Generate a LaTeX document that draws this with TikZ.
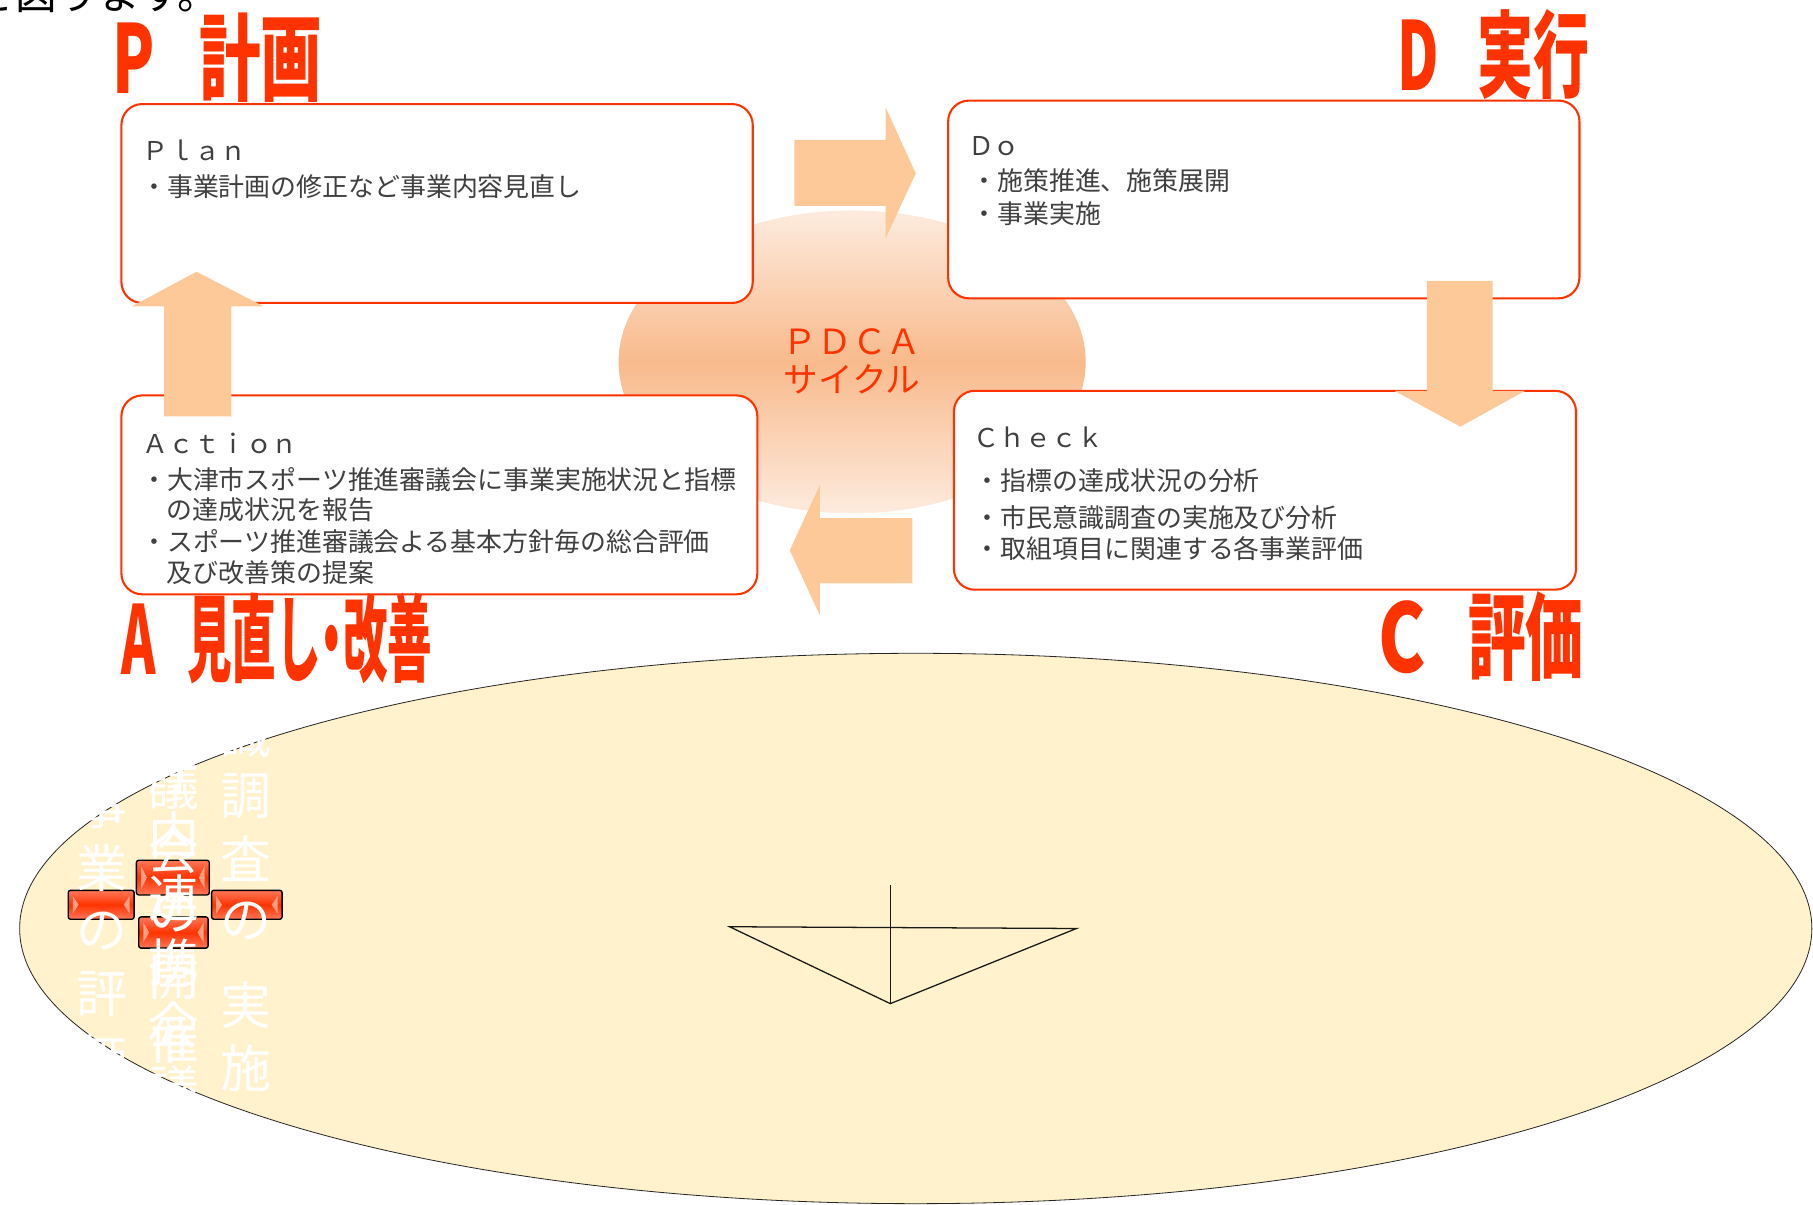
\documentclass[tikz,border=0pt]{standalone}
\usepackage{fontspec}
\setmainfont{Noto Sans CJK JP}
\usepackage{graphicx}
\usepackage{tikz}
\usetikzlibrary{positioning}
\definecolor{pdcared}{RGB}{255,51,0}
\definecolor{bodygray}{RGB}{64,64,64}
\definecolor{arrowpeach}{RGB}{253,201,153}
\definecolor{cyclelight}{RGB}{253,235,222}
\definecolor{cyclemid}{RGB}{248,186,140}
\definecolor{basecream}{RGB}{255,242,204}
\definecolor{btntop}{RGB}{255,120,90}
\definecolor{btnlight}{RGB}{255,160,130}

\begin{document}
\begin{tikzpicture}[x=1pt,y=-1pt,
    cyclebox/.style={draw=pdcared,line width=1.8pt,rounded corners=18pt,fill=white},
    bodytext/.style={anchor=base west,inner sep=0pt,text=bodygray,font=\fontsize{22.4}{26}\selectfont},
    phasetitle/.style={anchor=base west,inner sep=0pt,text=pdcared,font=\fontsize{82}{90}\selectfont\bfseries},
    cyclelabel/.style={anchor=base,inner sep=0pt,text=pdcared,font=\fontsize{30}{33}\selectfont},
    blockarrow/.style={fill=arrowpeach},
    basefill/.style={fill=basecream,draw=black!85,line width=0.7pt},
    sketch/.style={draw=black!90,line width=1.1pt},
    ghost/.style={text=white,inner sep=0pt,font=\fontsize{44}{50}\selectfont},
    btn/.style={draw=black,line width=1.2pt,rounded corners=2pt,top color=btntop,bottom color=btntop,middle color=pdcared},
    btnmark/.style={fill=btnlight}]

    \useasboundingbox (0,0) rectangle (1568,1042);

    % --- cut-off lead sentence ---
    \node[anchor=base west,inner sep=0pt,font=\fontsize{36}{40}\selectfont] (lead) at (-23,8.5) {を図ります。};

    % --- base ellipse ---
    \draw[basefill] (792,803) ellipse [x radius=775pt,y radius=238pt];
    \coordinate (tl) at (631,801.5);
    \coordinate (tr) at (931,803);
    \coordinate (tb) at (770,868);
    \coordinate (tt) at (770,765.5);
    \draw[sketch] (tl) -- (tr) -- (tb) -- cycle;
    \draw[sketch] (tt) -- (tb);

    % --- buttons ---
    \foreach \x/\y/\w/\h in {59/770/57/25, 118/744/63/30, 183/770/61/25, 120/793/60/27} {
        \draw[btn] (\x,\y) rectangle ++(\w,\h);
        \fill[btnmark] (\x+4,\y+5) -- (\x+9,\y+\h/2) -- (\x+4,\y+\h-5) -- cycle;
        \fill[btnmark] (\x+\w-4,\y+5) -- (\x+\w-9,\y+\h/2) -- (\x+\w-4,\y+\h-5) -- cycle;
    }

    % --- white columns ---
    \foreach \c [count=\i] in {事,業,の,評,価}
        \node[ghost] (colA\i) at (88,696.5+54.5*\i-54.5) {\c};
    \foreach \c [count=\i] in {審,議,会,の,開,催}
        \node[ghost] (colB\i) at (150,625+55*\i-55) {\c};
    \foreach \c [count=\i] in {庁,内,連,携,会,議}
        \node[ghost] (colC\i) at (150,667+55*\i-55) {\c};
    \foreach \c [count=\i] in {意,識,調,査,の}
        \node[ghost] (colD\i) at (213,581+53.8*\i-53.8) {\c};
    \foreach \c [count=\i] in {実,施}
        \node[ghost] (colE\i) at (213,869+55*\i-55) {\c};

    % --- PDCA cycle ---
    \shade[top color=cyclelight,bottom color=cyclelight,middle color=cyclemid] (737,313) ellipse [x radius=202pt,y radius=131pt];
    \node[cyclelabel] (pdca) at (737,307) {ＰＤＣＡ};
    \node[cyclelabel] (cycle) at (737,339.5) {サイクル};

    % --- Plan ---
    \node[cyclebox,minimum width=546,minimum height=172] (plan) at (378,176) {};
    \node[bodytext] (planhead) at (123,138.5) {Ｐｌａｎ};
    \node[bodytext] (planitem) at (122,170) {・事業計画の修正など事業内容見直し};
    \node[phasetitle] (ptitle) at (97,80.5) {\scalebox{0.65}[1]{P}\hspace{38.5pt}\scalebox{0.65}[1]{計画}};

    % --- Do ---
    \node[cyclebox,minimum width=546,minimum height=171] (do) at (1093,172.5) {};
    \node[bodytext] (dohead) at (837,134.5) {Ｄｏ};
    \node[bodytext] (doitemA) at (840,165) {・施策推進、施策展開};
    \node[bodytext] (doitemB) at (840,193.5) {・事業実施};
    \node[phasetitle] (dtitle) at (1208,78) {\scalebox{0.6}[1]{D}\hspace{33.4pt}\scalebox{0.59}[1]{実行}};

    % --- Check ---
    \node[cyclebox,minimum width=538,minimum height=172] (check) at (1094,424) {};
    \node[bodytext] (checkhead) at (842,387) {Ｃｈｅｃｋ};
    \node[bodytext] (checkitemA) at (843,424) {・指標の達成状況の分析};
    \node[bodytext] (checkitemB) at (843,456) {・市民意識調査の実施及び分析};
    \node[bodytext] (checkitemC) at (843,483) {・取組項目に関連する各事業評価};
    \node[phasetitle] (ctitle) at (1192,582) {\scalebox{0.75}[1]{C}\hspace{36.5pt}\scalebox{0.61}[1]{評価}};

    % --- Action ---
    \node[cyclebox,minimum width=550,minimum height=172] (action) at (380,428) {};
    \node[bodytext] (actionhead) at (123,392) {Ａｃｔｉｏｎ};
    \node[bodytext] (actionitemA) at (122,423) {・大津市スポーツ推進審議会に事業実施状況と指標};
    \node[bodytext] (actionitemB) at (144,449) {の達成状況を報告};
    \node[bodytext] (actionitemC) at (122,477) {・スポーツ推進審議会よる基本方針毎の総合評価};
    \node[bodytext] (actionitemD) at (144,504) {及び改善策の提案};
    \node[phasetitle] (atitle) at (105,583) {\scalebox{0.55}[1]{A}\hspace{27pt}\scalebox{0.47}[1]{見直し\kern-0.25em・\kern-0.25em改善}};

    % --- cycle arrows ---
    \fill[blockarrow] (687,121) -- (766,121) -- (766,93) -- (792,150) -- (766,206) -- (766,178) -- (687,178) -- cycle;
    \fill[blockarrow] (1234,243) -- (1291,243) -- (1291,338) -- (1319,338) -- (1263,369) -- (1206,338) -- (1234,338) -- cycle;
    \fill[blockarrow] (789,448) -- (709,448) -- (709,419.5) -- (683,476) -- (709,532) -- (709,504.5) -- (789,504.5) -- cycle;
    \fill[blockarrow] (142,360) -- (142,265) -- (114,265) -- (170,235) -- (228,265) -- (200,265) -- (200,360) -- cycle;
\end{tikzpicture}
\end{document}
